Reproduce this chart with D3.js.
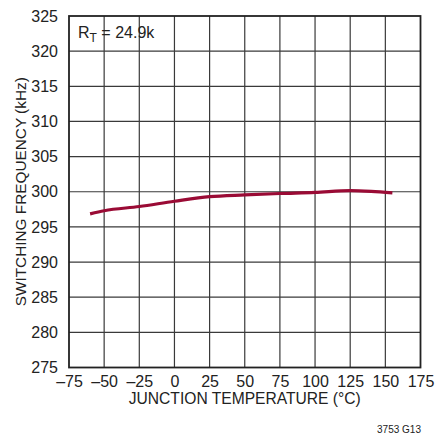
<!DOCTYPE html>
<html>
<head>
<meta charset="utf-8">
<script src="https://cdn.jsdelivr.net/npm/d3@7"></script>
<style>
  body { margin: 0; background: #fff; }
  text { font-family: "Liberation Sans", Arial, sans-serif; fill: #222; }
</style>
</head>
<body>
<div class="chart"></div>
<script>
const temps = [-60, -50, -25, 0, 25, 50, 75, 100, 125, 140, 155];
const freqs = [296.85, 297.3, 297.9, 298.65, 299.3, 299.55, 299.75, 299.9, 300.15, 300.05, 299.85];
const xTicks = [-75, -50, -25, 0, 25, 50, 75, 100, 125, 150, 175];
const yTicks = [275, 280, 285, 290, 295, 300, 305, 310, 315, 320, 325];

const width = 435;
const height = 435;
const margin = {top: 16, right: 14.5, bottom: 67.5, left: 69};

const svg = d3.select(".chart")
    .append("svg")
    .attr("width", width)
    .attr("height", height);

const x = d3.scaleLinear()
    .domain([-75, 175])
    .range([margin.left, width - margin.right]);
const y = d3.scaleLinear()
    .domain([275, 325])
    .range([height - margin.bottom, margin.top]);

// grid
svg.append("g")
    .selectAll("line")
    .data(xTicks.slice(1, -1))
    .enter()
    .append("line")
    .attr("x1", (d) => x(d))
    .attr("x2", (d) => x(d))
    .attr("y1", y(275))
    .attr("y2", y(325))
    .style("stroke", "#3a3a3a")
    .style("stroke-width", 1.2);

svg.append("g")
    .selectAll("line")
    .data(yTicks.slice(1, -1))
    .enter()
    .append("line")
    .attr("x1", x(-75))
    .attr("x2", x(175))
    .attr("y1", (d) => y(d))
    .attr("y2", (d) => y(d))
    .style("stroke", "#3a3a3a")
    .style("stroke-width", 1.2);

svg.append("rect")
    .attr("x", x(-75))
    .attr("y", y(325))
    .attr("width", x(175) - x(-75))
    .attr("height", y(275) - y(325))
    .style("fill", "none")
    .style("stroke", "#222")
    .style("stroke-width", 1.8);

// axes labels
const xAxis = d3.axisBottom(x)
    .tickValues(xTicks)
    .tickSize(0)
    .tickPadding(8)
    .tickFormat((d) => d < 0 ? "\u2013" + Math.abs(d) : d);

svg.append("g")
    .attr("class", "x-axis")
    .attr("transform", `translate(0,${y(275)})`)
    .call(xAxis)
    .call((g) => g.select(".domain").remove())
    .selectAll("text")
    .style("font-size", "16px")
    .style("fill", "#222");

const yAxis = d3.axisLeft(y)
    .tickValues(yTicks)
    .tickSize(0)
    .tickPadding(11);

svg.append("g")
    .attr("class", "y-axis")
    .attr("transform", `translate(${x(-75)},0)`)
    .call(yAxis)
    .call((g) => g.select(".domain").remove())
    .selectAll("text")
    .style("font-size", "16px")
    .style("fill", "#222");

// line
const line = d3.line()
    .x((d, i) => x(temps[i]))
    .y((d) => y(d))
    .curve(d3.curveMonotoneX);

svg.append("path")
    .datum(freqs)
    .attr("d", line)
    .style("fill", "none")
    .style("stroke", "#9a0b35")
    .style("stroke-width", 3.2);

// titles (squeezed a bit, the original face is condensed)
svg.append("text")
    .attr("x", (x(-75) + x(175)) / 2)
    .attr("y", 404)
    .attr("text-anchor", "middle")
    .attr("textLength", 232)
    .attr("lengthAdjust", "spacingAndGlyphs")
    .style("font-size", "16px")
    .text("JUNCTION TEMPERATURE (°C)");

svg.append("text")
    .attr("transform", `translate(26,${(y(275) + y(325)) / 2}) rotate(-90)`)
    .attr("text-anchor", "middle")
    .attr("textLength", 229)
    .attr("lengthAdjust", "spacingAndGlyphs")
    .style("font-size", "15.5px")
    .text("SWITCHING FREQUENCY (kHz)");

svg.append("text")
    .attr("x", 421)
    .attr("y", 433)
    .attr("text-anchor", "end")
    .style("font-size", "10px")
    .text("3753 G13");

// annotation label
const note = svg.append("text")
    .attr("x", 78)
    .attr("y", 38)
    .style("font-size", "16px");
note.append("tspan").text("R");
note.append("tspan").attr("dy", 4).style("font-size", "12px").text("T");
note.append("tspan").attr("dy", -4).text(" = 24.9k");
</script>
</body>
</html>
